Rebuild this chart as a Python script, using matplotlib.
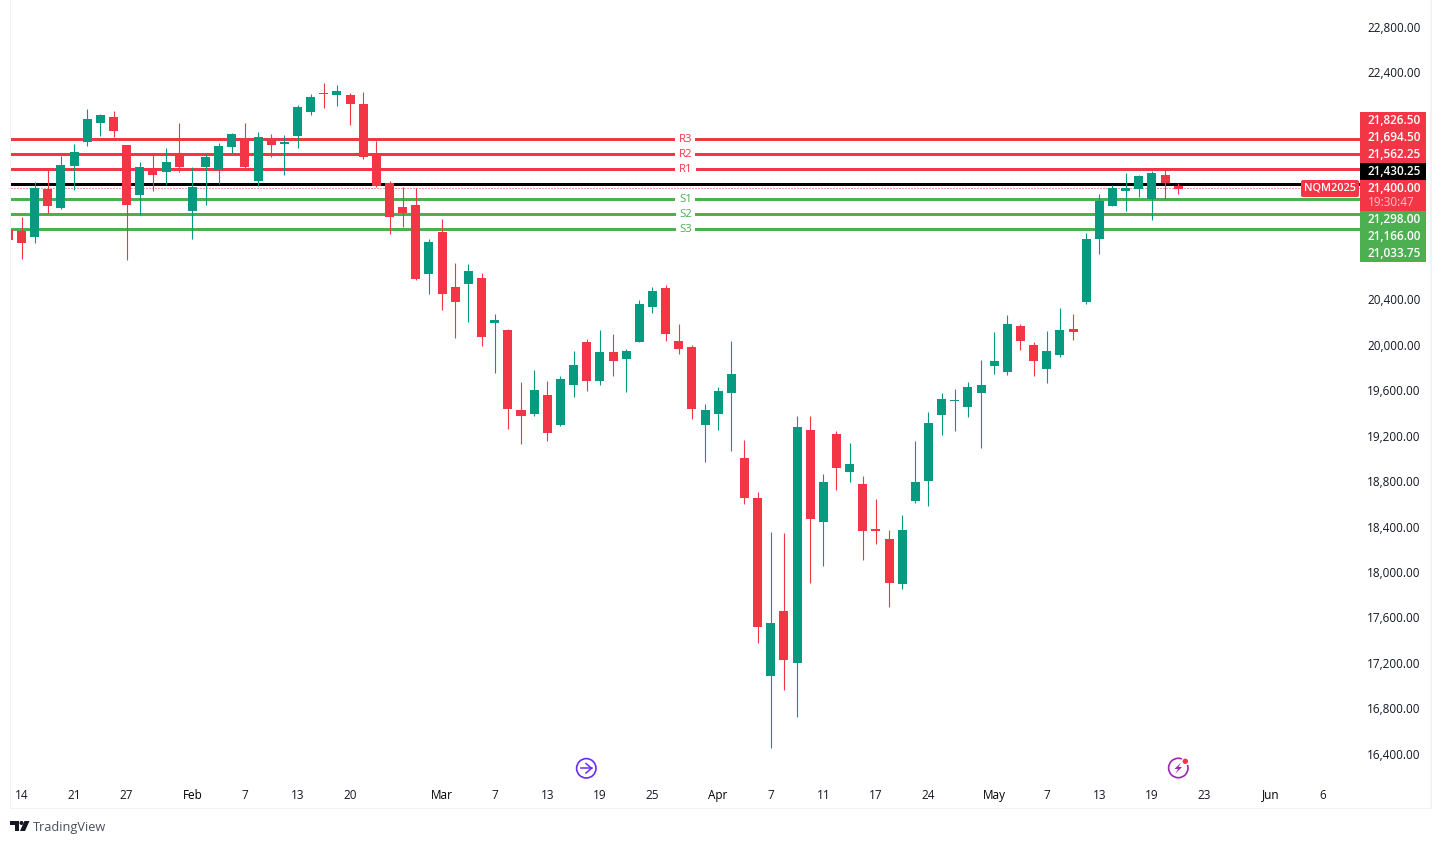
import matplotlib
matplotlib.use("Agg")
import matplotlib.pyplot as plt
from matplotlib.patches import Rectangle, Circle, Polygon, FancyBboxPatch
from matplotlib.transforms import ScaledTranslation

plt.rcParams['font.family'] = ['Open Sans', 'DejaVu Sans']

# Daily candles, NQM2025
opens = [21028, 21019, 20966, 21389, 21221, 21591, 21803, 21970, 22023, 21776,
         21336, 21565, 21538, 21697, 21195, 21583, 21556, 21759, 21829, 21459,
         21838, 21785, 21856, 22067, 22234, 22217, 22217, 22137, 21688, 21442,
         21230, 21248, 20640, 21010, 20526, 20552, 20605, 20209, 20147, 19442,
         19407, 19574, 19310, 19662, 20041, 19698, 19953, 19891, 20041, 20350,
         20517, 20050, 19997, 19310, 19407, 19592, 19020, 18667, 17099, 17672,
         17214, 19266, 18456, 19231, 18896, 18791, 18394, 18306, 17910, 18641,
         18817, 19398, 19521, 19469, 19592, 19830, 19777, 20182, 20015, 19803,
         19927, 20156, 20394, 20948, 21239, 21371, 21389, 21301, 21512, 21415]
highs = [21028, 21142, 21450, 21556, 21679, 21785, 22093, 22049, 22076, 21776,
         21627, 21688, 21750, 21970, 21583, 21697, 21794, 21882, 21970, 21891,
         21873, 21864, 22129, 22225, 22322, 22305, 22234, 22243, 21812, 21459,
         21406, 21398, 20948, 21125, 20737, 20728, 20649, 20288, 20156, 19689,
         19795, 19698, 19742, 19962, 20068, 20147, 20112, 19980, 20411, 20526,
         20543, 20200, 20015, 19495, 19645, 20050, 19178, 18720, 18368, 18359,
         19389, 19389, 18879, 19257, 19152, 18861, 18658, 18385, 18517, 19169,
         19425, 19592, 19627, 19689, 19883, 20129, 20279, 20200, 20041, 20138,
         20341, 20288, 21001, 21345, 21424, 21530, 21512, 21547, 21556, 21442]
lows = [20940, 20772, 20913, 21177, 21213, 21380, 21768, 21856, 21847, 20763,
        21160, 21371, 21424, 21538, 20948, 21248, 21433, 21706, 21574, 21415,
        21671, 21512, 21750, 22041, 22102, 22120, 21952, 21653, 21406, 20992,
        21054, 20587, 20464, 20323, 20076, 20217, 20006, 19768, 19275, 19143,
        19389, 19169, 19301, 19557, 19610, 19662, 19742, 19601, 20041, 20297,
        20050, 19935, 19363, 18984, 19266, 19081, 18614, 17390, 16465, 16976,
        16738, 17918, 18068, 18738, 18808, 18121, 18262, 17707, 17866, 18623,
        18597, 19222, 19257, 19381, 19108, 19759, 19750, 19971, 19742, 19680,
        19909, 20059, 20376, 20816, 21239, 21195, 21318, 21116, 21301, 21345]
closes = [20940, 20913, 21398, 21239, 21600, 21715, 22005, 22041, 21900, 21248,
          21583, 21512, 21627, 21583, 21406, 21671, 21768, 21873, 21583, 21847,
          21776, 21803, 22111, 22199, 22225, 22252, 22137, 21671, 21415, 21142,
          21177, 20596, 20922, 20464, 20394, 20667, 20085, 20235, 19451, 19389,
          19618, 19240, 19715, 19839, 19698, 19953, 19874, 19962, 20376, 20490,
          20112, 19980, 19451, 19442, 19610, 19759, 18667, 17531, 17566, 17240,
          19293, 18482, 18808, 18931, 18967, 18376, 18376, 17918, 18385, 18808,
          19328, 19539, 19530, 19645, 19662, 19874, 20200, 20050, 19874, 19962,
          20147, 20129, 20948, 21283, 21398, 21398, 21503, 21530, 21442, 21389]

# Pivot levels
resistance_levels = [21826.50, 21694.50, 21562.25]
resistance_names = ["R3", "R2", "R1"]
support_levels = [21298.00, 21166.00, 21033.75]
support_names = ["S1", "S2", "S3"]
pivot_level = 21430.25
last_price = 21400.00

# Axis labels
price_ticks = [22800, 22400, 20400, 20000, 19600, 19200, 18800, 18400, 18000, 17600, 17200, 16800, 16400]
date_ticks = [1, 5, 9, 14, 18, 22, 26, 33, 37, 41, 45, 49, 54, 58, 62, 66, 70, 75, 79, 83, 87, 91, 96, 100]
date_labels = ["14", "21", "27", "Feb", "7", "13", "20", "Mar", "7", "13", "19", "25",
               "Apr", "7", "11", "17", "24", "May", "7", "13", "19", "23", "Jun", "6"]
month_names = ["Feb", "Mar", "Apr", "May", "Jun"]

UP = "#089981"
DOWN = "#F23645"
LEVEL_GREEN = "#4CAF50"
TEXT = "#131722"
BORDER = "#F0F3FA"

fig = plt.figure(figsize=(14.41, 8.44), dpi=100, facecolor="white")
ax = fig.add_axes([11 / 1441, (844 - 783) / 844, 1349 / 1441, 783 / 844])
ax.set_xlim(0.2, 102.83)
ax.set_ylim(16156.8, 23053.5)

# Levels sit under the candles
for level, name in zip(resistance_levels, resistance_names):
    ax.axhline(level, color=DOWN, lw=2.16, zorder=1)
    ax.text(51.5, level - 4, name, color=DOWN, fontsize=8.2, ha="center", va="center", zorder=4,
            bbox=dict(facecolor="white", edgecolor="none", pad=2.5))
for level, name in zip(support_levels, support_names):
    ax.axhline(level, color=LEVEL_GREEN, lw=2.16, zorder=1)
    ax.text(51.5, level - 4, name, color=LEVEL_GREEN, fontsize=8.2, ha="center", va="center", zorder=4,
            bbox=dict(facecolor="white", edgecolor="none", pad=2.5))
ax.axhline(pivot_level, color="black", lw=2.16, zorder=1)
ax.axhline(last_price, color=DOWN, lw=0.72, ls=(0, (1, 2)), zorder=1)

# Candles
for i in range(len(opens)):
    color = UP if closes[i] >= opens[i] else DOWN
    ax.vlines(i, lows[i], highs[i], color=color, lw=0.8, zorder=2)
    ax.bar(i, abs(closes[i] - opens[i]), bottom=min(opens[i], closes[i]), width=0.685,
           color=color, linewidth=0, zorder=3)

for side in ax.spines.values():
    side.set_visible(False)
ax.yaxis.tick_right()
ax.set_yticks(price_ticks)
ax.set_yticklabels([f"{p:,.2f}" for p in price_ticks])
ax.tick_params(axis="y", length=0, pad=5.2, labelsize=8.5, labelcolor=TEXT)
for label in ax.get_yticklabels():
    label.set_transform(label.get_transform() + ScaledTranslation(0, 1.8 / 100, fig.dpi_scale_trans))
ax.set_xticks(date_ticks)
ax.set_xticklabels(date_labels)
ax.tick_params(axis="x", length=0, pad=4, labelsize=8.5, labelcolor=TEXT)
for label in ax.get_xticklabels():
    if label.get_text() in month_names:
        label.set_fontweight("medium")
        label.set_color("black")

# Overlay in picture pixels for the price tags, borders and logo
ov = fig.add_axes([0, 0, 1, 1], zorder=5)
ov.set_xlim(0, 1441)
ov.set_ylim(844, 0)
ov.axis("off")
ov.patch.set_alpha(0)

ov.add_patch(Rectangle((9.5, 0), 1.5, 809, color=BORDER, lw=0))
ov.add_patch(Rectangle((9.5, 807.5), 1422, 1.5, color=BORDER, lw=0))
ov.add_patch(Rectangle((1430, 0), 1.5, 809, color=BORDER, lw=0))

ov.add_patch(Rectangle((1360, 112), 66, 51, color=DOWN, lw=0))
ov.add_patch(Rectangle((1360, 163), 66, 17, color="black", lw=0))
ov.add_patch(Rectangle((1360, 180), 66, 31, color=DOWN, lw=0))
ov.add_patch(Rectangle((1360, 211), 66, 51, color=LEVEL_GREEN, lw=0))
ov.add_patch(FancyBboxPatch((1302, 181), 56, 15, boxstyle="round,pad=1,rounding_size=2", color=DOWN, lw=0))

tag_levels = [resistance_levels[0], resistance_levels[1], resistance_levels[2], pivot_level,
              last_price, support_levels[0], support_levels[1], support_levels[2]]
tag_rows = [120.3, 137.3, 154.3, 171.3, 188.3, 219.3, 236.3, 253.3]
for value, row in zip(tag_levels, tag_rows):
    ov.text(1368, row, f"{value:,.2f}", color="white", fontsize=8.5, fontweight="semibold",
            ha="left", va="center")
ov.text(1368, 202.3, "19:30:47", color="#FBC4CA", fontsize=8.5, ha="left", va="center")
ov.text(1330, 188, "NQM2025", color="white", fontsize=7.8, fontweight="semibold", ha="center", va="center")

# TradingView mark
ov.add_patch(Polygon([(10, 821), (19, 821), (19, 831), (15, 831), (15, 825), (10, 825)], color="#131722", lw=0))
ov.add_patch(Circle((21.5, 823), 2, color="#131722", lw=0))
ov.add_patch(Polygon([(24.5, 821), (29.5, 821), (25, 831), (20, 831)], color="#131722", lw=0))
ov.text(33, 827, "TradingView", color="#4A4F5C", fontsize=9.2, ha="left", va="center")

# Event icons
ov.add_patch(Circle((586.3, 768.3), 9.7, fill=False, ec="#6A2CF5", lw=1.2))
ov.plot([581, 591.5], [768.3, 768.3], color="#6A2CF5", lw=1.1)
ov.plot([586, 591.5, 586], [763.5, 768.3, 773], color="#6A2CF5", lw=1.1)

ov.add_patch(Circle((1178.3, 768), 9.7, fill=False, ec="#9C27B0", lw=1.2))
ov.add_patch(Polygon([(1181, 762.5), (1174.5, 769), (1178, 769), (1175.5, 773.5), (1182, 767), (1178.5, 767)],
                     color="#9C27B0", lw=0))
ov.add_patch(Circle((1185.3, 761.3), 4.2, color="white", lw=0))
ov.add_patch(Circle((1185.3, 761.3), 2.7, color=DOWN, lw=0))

fig.savefig("out.png", dpi=100, facecolor="white")
